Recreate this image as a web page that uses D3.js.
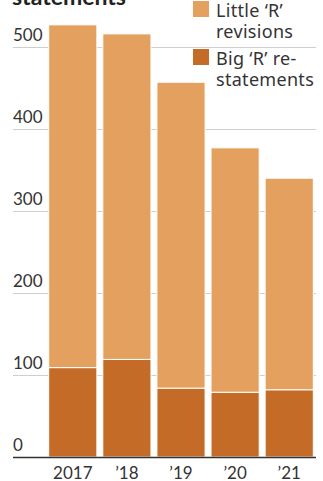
<!DOCTYPE html>
<meta charset="utf-8">
<style>
body { margin: 0; background: #fff; }
svg { display: block; font-family: Lato, "Noto Sans", sans-serif; }
.grid line { stroke: #cfcfcf; stroke-width: 1; }
.tick-label { fill: #333; font-size: 17px; }
.legend text { fill: #333; font-size: 18px; font-family: "Noto Sans", sans-serif; letter-spacing: 0.3px; }
</style>
<svg width="323" height="481"></svg>
<script src="https://d3js.org/d3.v7.min.js"></script>
<script>

var years = ["2017", "\u201918", "\u201919", "\u201920", "\u201921"];
var bigR = [109, 119, 84, 79, 82];
var littleR = [418, 397, 373, 298, 258];
var yTicks = [0, 100, 200, 300, 400, 500];

var light = "#e4a05e",
    dark = "#c46b28";

var svg = d3.select("svg");

var x = d3.scaleBand()
    .domain(years)
    .range([46, 316])
    .paddingInner(0.11)
    .paddingOuter(0.05);

var y = d3.scaleLinear()
    .domain([0, 500])
    .range([457, 47]);

// title (cut off at top)
svg.append("text")
    .attr("x", 12)
    .attr("y", 5)
    .attr("font-size", 23)
    .attr("font-weight", "bold")
    .attr("fill", "#222")
    .text("statements");

// gridlines
var grid = svg.append("g").attr("class", "grid");
grid.selectAll("line")
  .data(yTicks.filter(function(d) { return d > 0; }))
  .enter().append("line")
    .attr("x1", 13)
    .attr("x2", 316)
    .attr("y1", function(d) { return y(d) + 0.5; })
    .attr("y2", function(d) { return y(d) + 0.5; });

svg.append("g").selectAll("text")
  .data(yTicks)
  .enter().append("text")
    .attr("class", "tick-label")
    .attr("x", 13)
    .attr("y", function(d) { return y(d) - 6; })
    .text(function(d) { return d; });

// stacked bars
var rows = years.map(function(yr, i) { return { year: yr, big: bigR[i], little: littleR[i] }; });
var stack = d3.stack().keys(["big", "little"])(rows);

svg.append("g").selectAll("g")
  .data(stack)
  .enter().append("g")
    .attr("fill", function(d) { return d.key == "big" ? dark : light; })
  .selectAll("rect")
  .data(function(d) { return d; })
  .enter().append("rect")
    .attr("x", function(d) { return x(d.data.year); })
    .attr("width", x.bandwidth())
    .attr("y", function(d) { return y(d[1]); })
    .attr("height", function(d) { return y(d[0]) - y(d[1]); })
    .attr("stroke", "#fff")
    .attr("stroke-width", 1);

// baseline
svg.append("line")
    .attr("x1", 13)
    .attr("x2", 316)
    .attr("y1", y(0) + 0.5)
    .attr("y2", y(0) + 0.5)
    .attr("stroke", "#333")
    .attr("stroke-width", 1.5);

// x labels
svg.append("g").selectAll("text")
  .data(years)
  .enter().append("text")
    .attr("class", "tick-label")
    .attr("x", function(d) { return x(d) + x.bandwidth() / 2; })
    .attr("y", 479)
    .attr("text-anchor", "middle")
    .text(function(d) { return d; });

// legend
var legend = svg.append("g").attr("class", "legend");
var items = [
  { color: light, lines: ["Little \u2018R\u2019", "revisions"], top: 1 },
  { color: dark, lines: ["Big \u2018R\u2019 re-", "statements"], top: 49 }
];
items.forEach(function(it) {
  legend.append("rect")
      .attr("x", 193)
      .attr("y", it.top)
      .attr("width", 16)
      .attr("height", 16)
      .attr("fill", it.color);
  it.lines.forEach(function(t, j) {
    legend.append("text")
        .attr("x", 216)
        .attr("y", it.top + 16 + j * 21)
        .text(t);
  });
});

</script>
